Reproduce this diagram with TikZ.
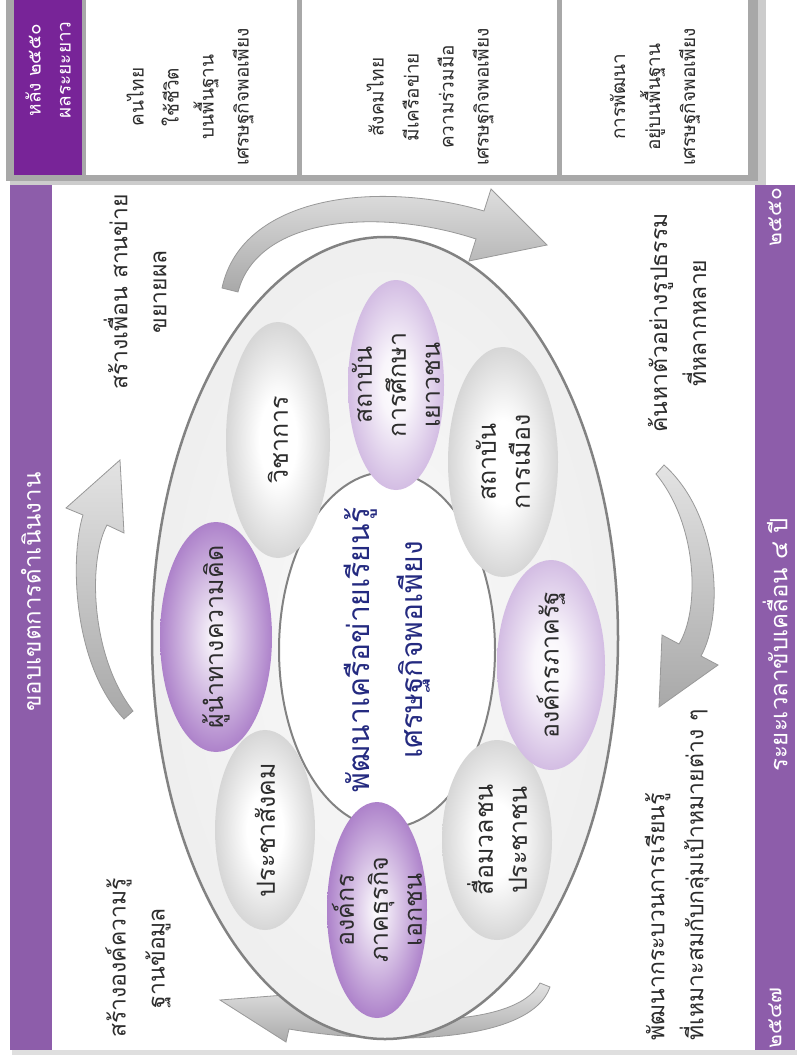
\documentclass[tikz,border=0pt]{standalone}
\usepackage{fontspec}
\setmainfont{Loma}[Script=Thai]
\usetikzlibrary{shapes.geometric}
\definecolor{stripP}{RGB}{141,93,170}
\definecolor{headP}{RGB}{120,36,152}
\definecolor{ringB}{RGB}{130,130,130}
\definecolor{txtC}{RGB}{45,45,45}
\definecolor{navyC}{RGB}{36,42,128}
\definecolor{plA}{RGB}{200,172,220}
\definecolor{pdA}{RGB}{150,105,185}
\definecolor{plB}{RGB}{170,125,200}
\definecolor{pdB}{RGB}{105,45,145}
\pgfdeclareradialshading{gball}{\pgfpoint{0bp}{0bp}}{color(0bp)=(white); color(9bp)=(white); color(30bp)=(gray!42); color(50bp)=(gray!78)}
\pgfdeclareradialshading{pballA}{\pgfpoint{0bp}{0bp}}{color(0bp)=(white); color(8bp)=(white!88!plA); color(30bp)=(plA); color(50bp)=(pdA)}
\pgfdeclareradialshading{pballB}{\pgfpoint{0bp}{0bp}}{color(0bp)=(white); color(5bp)=(white!80!plB); color(26bp)=(plB); color(50bp)=(pdB)}
\pgfdeclareradialshading{ringsh}{\pgfpoint{0bp}{0bp}}{color(0bp)=(gray!4); color(28bp)=(gray!14); color(50bp)=(gray!34)}
\tikzset{
  ellbase/.style={ellipse, rotate=90, inner sep=0pt, draw=none, shade},
  ellG/.style={ellbase, shading=gball},
  ellPA/.style={ellbase, shading=pballA},
  ellPB/.style={ellbase, shading=pballB},
  elltxt/.style={rotate=90, align=center, text=txtC, font=\fontsize{25}{34}\selectfont, inner sep=0pt},
  celltxt/.style={rotate=90, align=center, text=txtC, font=\fontsize{19}{35}\selectfont, inner sep=0pt},
  lbl/.style={rotate=90, align=center, text=txtC, font=\fontsize{23}{39}\selectfont, inner sep=0pt},
  lblL/.style={lbl, align=left},
  striptxt/.style={rotate=90, text=white, font=\fontsize{24}{30}\selectfont, inner sep=0pt, align=center},
  arrowband/.style={draw=gray!80, line width=0.8pt, top color=gray!22, bottom color=gray!68},
}
\begin{document}
\begin{tikzpicture}[x=1pt,y=-1pt]
\useasboundingbox (0,0) rectangle (801,1059);
\fill[white] (0,0) rectangle (801,1059);
% ---------- top strip ----------
\fill[gray!40] (10,0) rectangle (766,185);
\fill[gray!68] (6,0) rectangle (758,181);
\fill[headP] (14,0) rectangle (82,175);
\fill[white] (86,0) rectangle (297,175);
\fill[white] (302,0) rectangle (557,175);
\fill[white] (562,0) rectangle (748,175);
\node[striptxt, font=\fontsize{19}{30}\selectfont] (hd) at (48,70) {หลัง ๒๕๕๐\\ผลระยะยาว};
\node[celltxt] (c1) at (190,97) {คนไทย\\ใช้ชีวิต\\บนพื้นฐาน\\เศรษฐกิจพอเพียง};
\node[celltxt] (c2) at (430,97) {สังคมไทย\\มีเครือข่าย\\ความร่วมมือ\\เศรษฐกิจพอเพียง};
\node[celltxt] (c3) at (655,97) {การพัฒนา\\อยู่บนพื้นฐาน\\เศรษฐกิจพอเพียง};
% ---------- main frame ----------
\fill[gray!25] (12,1050) rectangle (797,1055);
\fill[stripP] (10,185) rectangle (52,1050);
\fill[stripP] (755,185) rectangle (795,1050);
\node[striptxt] (scope) at (31,592) {ขอบเขตการดำเนินงาน};
\node[striptxt, font=\fontsize{21}{30}\selectfont] (y1) at (775,1018) {๒๕๔๗};
\node[striptxt] (per) at (775,645) {ระยะเวลาขับเคลื่อน ๔ ปี};
\node[striptxt, font=\fontsize{21}{30}\selectfont] (y2) at (775,217) {๒๕๕๐};
% ---------- cycle arrows ----------
\shade[arrowband] (222,288) .. controls (242,195) and (378,180) .. (484,211) -- (491,189) -- (547,245) -- (469,261) -- (476,239) .. controls (382,208) and (258,215) .. (238,292) -- cycle;
\shade[arrowband] (664,465) .. controls (720,515) and (724,615) .. (701,656) -- (718,665) -- (659,707) -- (662,635) -- (679,644) .. controls (700,610) and (698,525) .. (656,474) -- cycle;
\shade[arrowband] (550,987) .. controls (530,1045) and (380,1045) .. (289,1029) -- (286,1042) -- (220,1000) -- (298,994) -- (295,1007) .. controls (380,1025) and (515,1030) .. (540,983) -- cycle;
\shade[arrowband] (124,719) .. controls (72,664) and (70,556) .. (83,515) -- (66,508) -- (120,460) -- (124,533) -- (107,525) .. controls (88,560) and (90,655) .. (133,711) -- cycle;
% ---------- ring ----------
\node[ellipse, minimum width=466pt, minimum height=802pt, draw=ringB, line width=2.5pt, shade, shading=ringsh] (ring) at (385,638) {};
\node[ellipse, minimum width=216pt, minimum height=356pt, draw=ringB, line width=2pt, fill=white] (inner) at (387,650) {};
% ---------- member ellipses ----------
\node[ellG, minimum width=236pt, minimum height=104pt] (e2) at (278,440) {};
\node[ellG, minimum width=200pt, minimum height=100pt] (e4) at (265,830) {};
\node[ellG, minimum width=200pt, minimum height=110pt] (e6) at (497,840) {};
\node[ellG, minimum width=230pt, minimum height=110pt] (e8) at (503,462) {};
\node[ellPA, minimum width=210pt, minimum height=96pt] (e1) at (396,385) {};
\node[ellPB, minimum width=230pt, minimum height=112pt] (e3) at (216,637) {};
\node[ellPB, minimum width=216pt, minimum height=100pt] (e5) at (377,910) {};
\node[ellPA, minimum width=210pt, minimum height=108pt] (e7) at (551,665) {};
\node[elltxt] (t1) at (e1) {สถาบัน\\การศึกษา\\เยาวชน};
\node[elltxt] (t2) at (e2) {วิชาการ};
\node[elltxt] (t3) at (e3) {ผู้นำทางความคิด};
\node[elltxt] (t4) at (e4) {ประชาสังคม};
\node[elltxt] (t5) at (e5) {องค์กร\\ภาคธุรกิจ\\เอกชน};
\node[elltxt] (t6) at (e6) {สื่อมวลชน\\ประชาชน};
\node[elltxt] (t7) at (e7) {องค์กรภาครัฐ};
\node[elltxt] (t8) at (e8) {สถาบัน\\การเมือง};
\node[rotate=90, align=center, text=navyC, font=\fontsize{30}{53}\selectfont, inner sep=0pt] (ctr) at (inner) {พัฒนาเครือข่ายเรียนรู้\\เศรษฐกิจพอเพียง};
% ---------- outer labels ----------
\node[lbl] (l1) at (135,292) {สร้างเพื่อน สานข่าย\\ขยายผล};
\node[lbl] (l2) at (138,958) {สร้างองค์ความรู้\\ฐานข้อมูล};
\node[lbl] (l3) at (677,323) {ค้นหาตัวอย่างรูปธรรม\\ที่หลากหลาย};
\node[lblL] (l4) at (677,875) {พัฒนากระบวนการเรียนรู้\\ที่เหมาะสมกับกลุ่มเป้าหมายต่าง ๆ};
\end{tikzpicture}
\end{document}
